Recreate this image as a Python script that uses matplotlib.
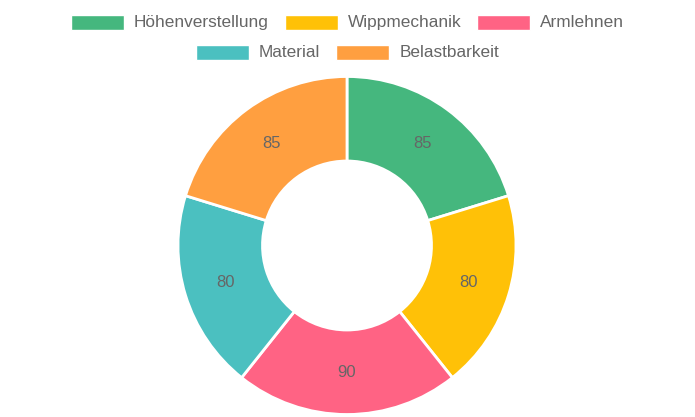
import matplotlib
matplotlib.use("Agg")
import matplotlib.pyplot as plt
from matplotlib.patches import Rectangle
import numpy as np

plt.rcParams['font.family'] = ['Liberation Sans', 'DejaVu Sans']

categories = ["Höhenverstellung", "Wippmechanik", "Armlehnen", "Material", "Belastbarkeit"]
values = [85, 80, 90, 80, 85]
colors = ["#45b77e", "#ffc107", "#ff6384", "#4bc0c0", "#ff9f40"]

W, H = 695, 417
fig = plt.figure(figsize=(W / 100, H / 100), dpi=100)

# doughnut: center (347, 245) px, outer radius 169 px
cx, cy, r = 347, 245.5, 169
ax = fig.add_axes([(cx - r) / W, (H - cy - r) / H, 2 * r / W, 2 * r / H])
wedges, _ = ax.pie(values, colors=colors, startangle=90, counterclock=False,
                   radius=1, wedgeprops=dict(width=0.5, edgecolor="white", linewidth=2))
ax.set_xlim(-1, 1)
ax.set_ylim(-1, 1)
ax.set_aspect("equal")
ax.axis("off")

for w, v in zip(wedges, values):
    mid = np.deg2rad((w.theta1 + w.theta2) / 2)
    ax.text(0.75 * np.cos(mid), 0.75 * np.sin(mid), str(v), ha="center", va="center",
            fontsize=12, color="#666666")

# legend, centered rows like chart.js
rows = [[0, 1, 2], [3, 4]]
row_y = [22.5, 52.5]
box_w, box_h, gap_box, gap_item = 53, 14, 10, 16
fs = 12.4
renderer = fig.canvas.get_renderer()
for row, yy in zip(rows, row_y):
    widths = []
    for i in row:
        t = fig.text(0, 0, categories[i], fontsize=fs)
        widths.append(t.get_window_extent(renderer).width)
        t.remove()
    total = sum(box_w + gap_box + tw for tw in widths) + gap_item * (len(row) - 1)
    x = (W - total) / 2
    for i, tw in zip(row, widths):
        fig.patches.append(Rectangle((x / W, (H - yy - box_h / 2) / H), box_w / W, box_h / H,
                                     transform=fig.transFigure, facecolor=colors[i],
                                     edgecolor="white", linewidth=1))
        fig.text((x + box_w + gap_box) / W, (H - yy) / H, categories[i], fontsize=fs,
                 color="#666666", ha="left", va="center")
        x += box_w + gap_box + tw + gap_item

fig.savefig("out.png", dpi=100)
